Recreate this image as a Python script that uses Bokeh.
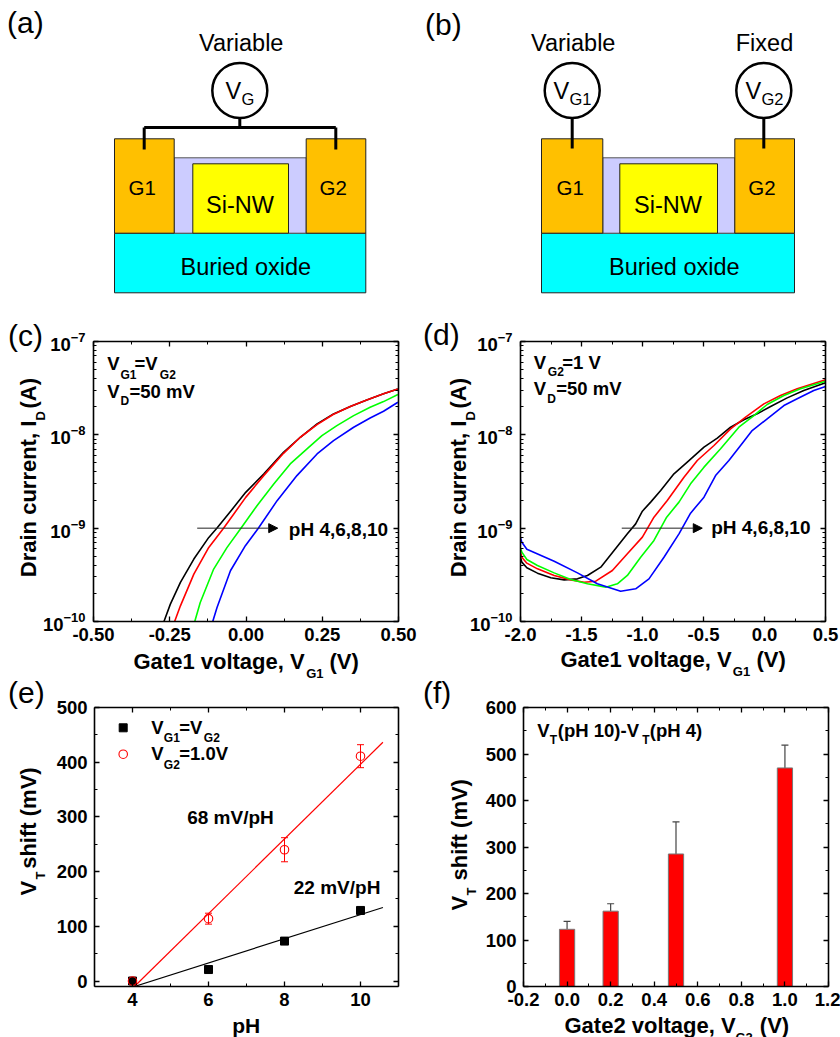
from bokeh.plotting import figure
from bokeh.layouts import column, row
from bokeh.embed import file_html
from bokeh.resources import INLINE
from bokeh.models import (Range1d, Label, LinearAxis, LogAxis, FixedTicker, LogTicker, Spacer,
                          PrintfTickFormatter, Whisker, TeeHead, Arrow, NormalHead,
                          ColumnDataSource)

FONT = "Liberation Sans"

# ---- panel (c): log10 of drain current
c_black_x = [-0.269,-0.248,-0.215,-0.171,-0.122,-0.095,-0.040,-0.001,0.058,0.123,0.178,0.233,0.287,0.342,0.396,0.451,0.498]
c_black_log = [-10,-9.814,-9.581,-9.331,-9.099,-8.999,-8.777,-8.616,-8.419,-8.187,-8.026,-7.883,-7.776,-7.697,-7.626,-7.561,-7.508]
c_red_x = [-0.234,-0.215,-0.171,-0.122,-0.073,-0.040,-0.001,0.058,0.123,0.178,0.233,0.287,0.342,0.396,0.451,0.498]
c_red_log = [-10,-9.832,-9.492,-9.206,-8.999,-8.848,-8.670,-8.437,-8.198,-8.026,-7.890,-7.779,-7.697,-7.626,-7.561,-7.508]
c_green_x = [-0.168,-0.150,-0.106,-0.062,-0.016,0.036,0.091,0.145,0.200,0.249,0.298,0.353,0.407,0.451,0.498]
c_green_log = [-10,-9.796,-9.438,-9.206,-8.999,-8.759,-8.527,-8.312,-8.151,-8.008,-7.901,-7.794,-7.704,-7.644,-7.568]
c_blue_x = [-0.109,-0.095,-0.051,-0.002,0.041,0.102,0.167,0.233,0.287,0.353,0.407,0.451,0.498]
c_blue_log = [-10,-9.849,-9.456,-9.188,-8.999,-8.705,-8.437,-8.205,-8.062,-7.919,-7.819,-7.747,-7.651]

# ---- panel (d)
d_black_x = [-2,-1.989,-1.948,-1.861,-1.752,-1.642,-1.533,-1.451,-1.342,-1.233,-1.124,-1.056,-1.001,-.933,-.851,-.742,-.633,-.496,-.387,-.278,-.169,-.060,.050,.186,.322,.5]
d_black_log = [-9.311,-9.364,-9.425,-9.482,-9.532,-9.554,-9.543,-9.507,-9.418,-9.239,-9.061,-8.954,-8.818,-8.721,-8.596,-8.418,-8.293,-8.132,-8.036,-7.918,-7.839,-7.775,-7.696,-7.604,-7.525,-7.443]
d_red_x = [-2,-1.989,-1.948,-1.861,-1.724,-1.588,-1.479,-1.383,-1.247,-1.124,-1.001,-.906,-.797,-.660,-.551,-.414,-.278,-.155,-.005,.131,.268,.5]
d_red_log = [-9.257,-9.311,-9.375,-9.436,-9.507,-9.554,-9.579,-9.568,-9.454,-9.275,-9.096,-8.882,-8.704,-8.454,-8.275,-8.114,-7.936,-7.811,-7.668,-7.579,-7.507,-7.411]
d_green_x = [-2,-1.989,-1.948,-1.861,-1.724,-1.588,-1.451,-1.301,-1.206,-1.124,-1.015,-.906,-.802,-.701,-.606,-.496,-.360,-.210,-.087,.022,.159,.295,.5]
d_green_log = [-9.214,-9.257,-9.336,-9.4,-9.479,-9.55,-9.596,-9.632,-9.596,-9.507,-9.311,-9.132,-8.882,-8.721,-8.525,-8.346,-8.15,-7.918,-7.793,-7.675,-7.579,-7.507,-7.425]
d_blue_x = [-2,-1.989,-1.948,-1.724,-1.533,-1.370,-1.179,-1.056,-.947,-.824,-.701,-.606,-.496,-.401,-.292,-.196,-.101,.022,.159,.268,.404,.5]
d_blue_log = [-9.104,-9.15,-9.225,-9.354,-9.479,-9.596,-9.675,-9.65,-9.543,-9.311,-9.061,-8.839,-8.668,-8.436,-8.275,-8.114,-7.954,-7.829,-7.686,-7.614,-7.525,-7.482]

# ---- panel (e)
e_ph = [4, 6, 8, 10]
e_same_gate = [0, 21, 73, 129]
e_fixed_gate = [0, 114, 240, 411]
e_fixed_err = [6, 10, 22, 21]
e_fit_x = [4.05, 10.59]
e_fit_same = [-10, 134.5]
e_fit_fixed = [-10, 436.5]

# ---- panel (f)
f_gate2 = [0.0, 0.2, 0.5, 1.0]
f_shift = [123, 162, 285, 470]
f_err_top = [140, 178, 354, 519]
f_bar_width = 0.07

# ---- ticks
c_xticks = [-0.5, -0.25, 0, 0.25, 0.5]
c_xminor = [-0.375, -0.125, 0.125, 0.375]
d_xticks = [-2, -1.5, -1, -0.5, 0, 0.5]
d_xminor = [-1.75, -1.25, -0.75, -0.25, 0.25]
e_xticks = [4, 6, 8, 10]
e_xminor = [3, 5, 7, 9, 11]
e_yticks = [0, 100, 200, 300, 400, 500]
e_yminor = [50, 150, 250, 350, 450]
f_xticks = [-0.2, 0, 0.2, 0.4, 0.6, 0.8, 1.0, 1.2]
f_xminor = [-0.1, 0.1, 0.3, 0.5, 0.7, 0.9, 1.1]
f_yticks = [0, 100, 200, 300, 400, 500, 600]
f_yminor = [50, 150, 250, 350, 450, 550]

TICK = "18.5px"


def chart(cell, g, xticks, xminor, xfmt, yticks=None, yminor=None, yfmt=None):
    log = g.get("log", False)
    kw = {}
    if log:
        kw["y_axis_type"] = "log"
    p = figure(width=cell[2] - cell[0], height=cell[3] - cell[1], toolbar_location=None,
               output_backend="svg", x_range=Range1d(g["x0"], g["x1"]),
               y_range=Range1d(g["y0"], g["y1"]),
               min_border_left=int(g["l"] - cell[0]), min_border_right=int(cell[2] - g["r"]),
               min_border_top=int(g["t"] - cell[1]), min_border_bottom=int(cell[3] - g["b"]),
               **kw)
    p.xgrid.visible = False
    p.ygrid.visible = False
    p.outline_line_color = None
    p.below[0].ticker = FixedTicker(ticks=xticks, minor_ticks=xminor)
    p.below[0].formatter = PrintfTickFormatter(format=xfmt)
    if log:
        p.left[0].ticker = LogTicker(num_minor_ticks=10)
        right = LogAxis(ticker=LogTicker(num_minor_ticks=10))
    else:
        p.left[0].ticker = FixedTicker(ticks=yticks, minor_ticks=yminor)
        p.left[0].formatter = PrintfTickFormatter(format=yfmt)
        right = LinearAxis(ticker=FixedTicker(ticks=yticks, minor_ticks=yminor))
    top = LinearAxis(ticker=FixedTicker(ticks=xticks, minor_ticks=xminor))
    bottom, left = p.below[0], p.left[0]
    p.add_layout(top, "above")
    p.add_layout(right, "right")
    for ax in [bottom, left, top, right]:
        ax.axis_line_color = "black"
        ax.axis_line_width = 1.6
        ax.major_tick_line_color = "black"
        ax.major_tick_line_width = 1.3
        ax.minor_tick_line_color = "black"
        ax.minor_tick_line_width = 1
        ax.major_tick_in = 5
        ax.major_tick_out = 0
        ax.minor_tick_in = 3
        ax.minor_tick_out = 0
    for ax in [bottom, left]:
        ax.major_label_text_font = FONT
        ax.major_label_text_font_style = "bold"
        ax.major_label_text_font_size = TICK
        ax.major_label_text_color = "black"
    bottom.major_label_standoff = 6
    left.major_label_standoff = 8 if log else 7
    for ax in [top, right]:
        ax.major_label_text_font_size = "0px"
        ax.major_label_standoff = 0
        ax.major_label_text_color = None
    return p


# ======================= (c) =======================
gc = dict(l=93, r=398, t=341, b=621, x0=-0.5, x1=0.5, y0=1e-10, y1=1e-7, log=True)
pc = chart((0, 318, 420, 682), gc, c_xticks, c_xminor, "%.2f")
for xs, ls, col in [(c_black_x, c_black_log, "black"), (c_red_x, c_red_log, "#FF0000"),
                    (c_green_x, c_green_log, "#00FF00"), (c_blue_x, c_blue_log, "#0000FF")]:
    pc.line(xs, [10 ** v for v in ls], line_color=col, line_width=1.6, line_join="round")
pc.add_layout(Arrow(end=NormalHead(size=9, fill_color="black", line_color="black"),
                    x_start=-0.16, y_start=1e-9, x_end=0.104, y_end=1e-9,
                    line_color="#222222", line_width=1))

# ======================= (d) =======================
gd = dict(l=520, r=825, t=341, b=621, x0=-2, x1=0.5, y0=1e-10, y1=1e-7, log=True)
pd = chart((420, 318, 840, 682), gd, d_xticks, d_xminor, "%.1f")
for xs, ls, col in [(d_black_x, d_black_log, "black"), (d_red_x, d_red_log, "#FF0000"),
                    (d_green_x, d_green_log, "#00FF00"), (d_blue_x, d_blue_log, "#0000FF")]:
    pd.line(xs, [10 ** v for v in ls], line_color=col, line_width=1.6, line_join="round")
pd.add_layout(Arrow(end=NormalHead(size=9, fill_color="black", line_color="black"),
                    x_start=-1.17, y_start=1e-9, x_end=-0.51, y_end=1e-9,
                    line_color="#222222", line_width=1))

# ======================= (e) =======================
ge = dict(l=94, r=398, t=707, b=986, x0=3, x1=11, y0=-10, y1=500)
pe = chart((0, 682, 420, 1037), ge, e_xticks, e_xminor, "%d", e_yticks, e_yminor, "%d")
pe.line(e_fit_x, e_fit_same, line_color="black", line_width=1.2)
pe.line(e_fit_x, e_fit_fixed, line_color="#FF0000", line_width=1.2)
pe.scatter(e_ph, e_same_gate, marker="square", size=8, fill_color="black", line_color="black")
pe.add_layout(Whisker(base="x", lower="lo", upper="hi", dimension="height", line_color="#FF0000", line_width=1,
                      upper_head=TeeHead(size=7, line_color="#FF0000", line_width=1),
                      lower_head=TeeHead(size=7, line_color="#FF0000", line_width=1),
                      source=ColumnDataSource(dict(x=e_ph,
                                                   lo=[v - d for v, d in zip(e_fixed_gate, e_fixed_err)],
                                                   hi=[v + d for v, d in zip(e_fixed_gate, e_fixed_err)]))))
pe.scatter(e_ph, e_fixed_gate, marker="circle", size=8.5, fill_color=None, line_color="#FF0000", line_width=1.1)

# ======================= (f) =======================
gf = dict(l=523, r=828, t=707, b=987, x0=-0.2, x1=1.2, y0=0, y1=600)
pf = chart((420, 682, 840, 1037), gf, f_xticks, f_xminor, "%.1f", f_yticks, f_yminor, "%d")
pf.add_layout(Whisker(base="x", lower="lo", upper="hi", dimension="height", line_color="#444444", line_width=1.2,
                      upper_head=TeeHead(size=7, line_color="#444444", line_width=1.2), lower_head=None,
                      source=ColumnDataSource(dict(x=f_gate2, lo=f_shift, hi=f_err_top))))
pf.vbar(x=f_gate2, top=f_shift, bottom=0, width=f_bar_width, fill_color="#FF0000", line_color="#777777", line_width=1)

# ======================= overlay: schematics and every free text =======================
ov = figure(width=840, height=1037, toolbar_location=None, output_backend="svg",
            x_range=Range1d(0, 840), y_range=Range1d(1037, 0),
            x_axis_type=None, y_axis_type=None, min_border=0,
            background_fill_color=None, border_fill_color=None,
            margin=(-1037, 0, 0, 0))
ov.grid.visible = False
ov.outline_line_color = None


def diagram(left_gate, right_gate, nw):
    g1l, g1r = left_gate
    g2l, g2r = right_gate
    ov.quad(left=[g1l], right=[g2r], top=[232.7], bottom=[292.3], fill_color="#00FFFF", line_color="#222222", line_width=1)
    ov.quad(left=[g1r], right=[g2l], top=[157.3], bottom=[232.7], fill_color="#CCCCFF", line_color="#555555", line_width=1)
    ov.quad(left=[nw[0]], right=[nw[1]], top=[163.3], bottom=[232.7], fill_color="#FFFF00", line_color="#222222", line_width=1)
    ov.quad(left=[g1l, g2l], right=[g1r, g2r], top=[138.3, 138.3], bottom=[232.7, 232.7],
            fill_color="#FFC000", line_color="#222222", line_width=1)


diagram((114, 173.7), (305.7, 365.3), (192.3, 288))
diagram((541, 602.3), (734.3, 794), (619.3, 717))
ov.segment(x0=[143.7, 143.7, 335.3, 239.3, 571.7, 763.3], y0=[127, 127, 127, 118, 118, 118],
           x1=[335.3, 143.7, 335.3, 239.3, 571.7, 763.3], y1=[127, 149, 149, 127, 148, 148],
           line_color="black", line_width=3)
ov.circle(x=[239.3, 571.7, 763.3], y=[90, 90, 90], radius=27.5, fill_color="white",
          line_color="black", line_width=2.5)
ov.scatter([122.7], [727.3], marker="square", size=8, fill_color="black", line_color="black")
ov.scatter([122.7], [753.7], marker="circle", size=8.5, fill_color=None, line_color="#FF0000", line_width=1.1)

MID = 0.358  # half cap height: the text box is centred on its anchor


def t(px, py, s, size, bold=True, angle=0, align="left"):
    if angle == 90:
        px = px - MID * size
    else:
        py = py - MID * size
    ov.add_layout(Label(x=px, y=py, text=s, text_font=FONT, text_font_size=f"{size}px",
                        text_font_style="bold" if bold else "normal", text_color="black",
                        angle=angle, angle_units="deg", text_align=align,
                        text_baseline="middle"))


def r(*a, **k):
    t(*a, bold=False, **k)


# schematics
r(6.5, 33, "(a)", 30)
r(424.5, 35, "(b)", 30)
r(240.7, 51, "Variable", 23.5, align="center")
r(572.7, 51, "Variable", 23.5, align="center")
r(764, 51, "Fixed", 23.5, align="center")
r(225, 98.5, "V", 23.5)
r(241, 104, "G", 16.5)
r(553, 98.5, "V", 23.5)
r(569, 104, "G1", 16.5)
r(745, 98.5, "V", 23.5)
r(761, 104, "G2", 16.5)
r(128, 194, "G1", 20.5)
r(319, 194, "G2", 20.5)
r(556, 194, "G1", 20.5)
r(747.7, 194, "G2", 20.5)
r(239.5, 212.5, "Si-NW", 23.5, align="center")
r(667.5, 212.5, "Si-NW", 23.5, align="center")
r(180, 275, "Buried oxide", 23.5)
r(608.5, 275, "Buried oxide", 23.5)
# (c)
r(7.5, 346, "(c)", 30)
t(106.7, 370, "V", 18.5)
t(120, 379, "G1", 12)
t(134, 370, "=V", 18.5)
t(159.3, 379, "G2", 12)
t(106.7, 397.7, "V", 18.5)
t(120, 405, "D", 12)
t(129, 397.7, "=50 mV", 18.5)
t(288.3, 536, "pH 4,6,8,10", 19)
t(133, 669, "Gate1 voltage, V", 22)
t(305.7, 678, "G1", 13)
t(329, 669, "(V)", 22)
t(35.7, 576.7, "Drain current, I", 22, angle=90)
t(44.3, 420, "D", 13, angle=90)
t(35.7, 408, "(A)", 22, angle=90)
# (d)
r(422.5, 345, "(d)", 30)
t(533.3, 368.3, "V", 18.5)
t(547.3, 375.7, "G2", 12)
t(561.7, 368.3, "=1 V", 18.5)
t(533.3, 395, "V", 18.5)
t(546.7, 402.3, "D", 12)
t(555.7, 395, "=50 mV", 18.5)
t(710.7, 534, "pH 4,6,8,10", 19)
t(560, 666.7, "Gate1 voltage, V", 22)
t(732.3, 676, "G1", 13)
t(756, 666.7, "(V)", 22)
t(465.7, 576.7, "Drain current, I", 22, angle=90)
t(475, 420, "D", 13, angle=90)
t(465.7, 408, "(A)", 22, angle=90)
# (e)
r(7.5, 703, "(e)", 30)
t(150.7, 733.3, "V", 18.5)
t(163.3, 741.7, "G1", 12)
t(178.7, 733.3, "=V", 18.5)
t(203.3, 741.7, "G2", 12)
t(150.7, 760, "V", 18.5)
t(163.3, 768.3, "G2", 12)
t(178.7, 760, "=1.0V", 18.5)
t(186.7, 824, "68 mV/pH", 19)
t(293.3, 894, "22 mV/pH", 19)
t(231.7, 1033, "pH", 21)
t(35.7, 895, "V", 22, angle=90)
t(44.3, 879, "T", 13, angle=90)
t(35.7, 868.3, "shift (mV)", 22, angle=90)
# (f)
r(422.5, 703, "(f)", 30)
t(536.7, 736.7, "V", 18.5)
t(549.3, 743.3, "T", 12)
t(557.3, 736.7, "(pH 10)-V", 18.5)
t(641.7, 743.3, "T", 12)
t(649.3, 736.7, "(pH 4)", 18.5)
t(564, 1033.3, "Gate2 voltage, V", 22)
t(735, 1042, "G2", 13)
t(759.3, 1033.3, "(V)", 22)
t(467.3, 910, "V", 22, angle=90)
t(475.7, 895, "T", 13, angle=90)
t(467.3, 880, "shift (mV)", 22, angle=90)

page = column(Spacer(width=840, height=318), row(pc, pd), row(pe, pf), ov)
open("out.html", "w").write(file_html(page, INLINE))
